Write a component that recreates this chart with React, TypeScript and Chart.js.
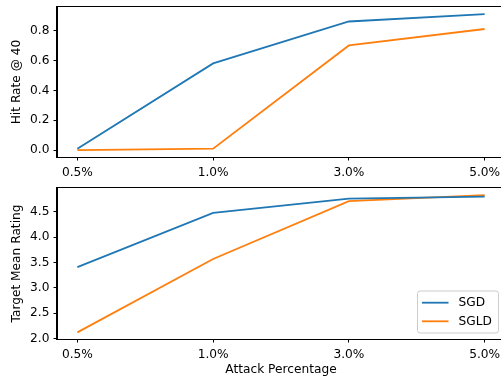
import React, { useEffect, useRef } from "react";
import { Chart, registerables } from "chart.js";

Chart.register(...registerables);

const categories = ["0.5%", "1.0%", "3.0%", "5.0%"];
const seriesNames = ["SGD", "SGLD"];
const seriesColors = ["#1f77b4", "#ff7f0e"];
const hitRateSGD = [0.01, 0.58, 0.86, 0.91];
const hitRateSGLD = [0.0, 0.01, 0.7, 0.81];
const ratingSGD = [3.41, 4.48, 4.76, 4.8];
const ratingSGLD = [2.12, 3.57, 4.71, 4.83];
const hitTicks = [0.0, 0.2, 0.4, 0.6, 0.8];
const ratingTicks = [2.0, 2.5, 3.0, 3.5, 4.0, 4.5];

const FONT = "'DejaVu Sans', sans-serif";
const FS = 12.2;

const framePlugin = {
  id: "frame",
  afterDatasetsDraw(chart: any) {
    const { ctx, chartArea: a } = chart;
    ctx.save();
    ctx.strokeStyle = "#000";
    ctx.lineWidth = 1;
    ctx.strokeRect(Math.round(a.left) - 0.5, Math.round(a.top) - 0.5, Math.round(a.right - a.left) + 1, Math.round(a.bottom - a.top) + 1);
    ctx.restore();
  },
};

const legendPlugin = {
  id: "boxLegend",
  afterDraw(chart: any) {
    const opts = chart.options.plugins.boxLegend;
    if (!opts || !opts.show) return;
    const { ctx, chartArea: a } = chart;
    const ds = chart.data.datasets;
    const w = 81;
    const h = 42;
    const right = a.right - 6.5;
    const bottom = a.bottom - 6;
    const left = right - w;
    const top = bottom - h;
    ctx.save();
    ctx.beginPath();
    const r = 2.5;
    ctx.moveTo(left + r, top);
    ctx.lineTo(right - r, top);
    ctx.quadraticCurveTo(right, top, right, top + r);
    ctx.lineTo(right, bottom - r);
    ctx.quadraticCurveTo(right, bottom, right - r, bottom);
    ctx.lineTo(left + r, bottom);
    ctx.quadraticCurveTo(left, bottom, left, bottom - r);
    ctx.lineTo(left, top + r);
    ctx.quadraticCurveTo(left, top, left + r, top);
    ctx.closePath();
    ctx.fillStyle = "rgba(255,255,255,0.8)";
    ctx.fill();
    ctx.strokeStyle = "#cccccc";
    ctx.lineWidth = 1;
    ctx.stroke();
    ds.forEach((d: any, i: number) => {
      const y = top + 11.7 + i * 18.6;
      ctx.beginPath();
      ctx.moveTo(left + 4.5, y);
      ctx.lineTo(left + 31, y);
      ctx.strokeStyle = d.borderColor;
      ctx.lineWidth = 1.8;
      ctx.stroke();
      ctx.fillStyle = "#000";
      ctx.font = `${FS}px ${FONT}`;
      ctx.textAlign = "left";
      ctx.textBaseline = "middle";
      ctx.fillText(d.label, left + 41, y + 0.5);
    });
    ctx.restore();
  },
};

function buildConfig(p: {
  sgd: number[];
  sgld: number[];
  yMin: number;
  yMax: number;
  yTicks: number[];
  yTitle: string;
  xTitle?: string;
  legend: boolean;
  padTop: number;
  xHeight: number;
}): any {
  const series = [p.sgd, p.sgld];
  return {
    type: "line",
    data: {
      datasets: series.map((vals, si) => ({
        label: seriesNames[si],
        data: vals.map((v, i) => ({ x: i, y: v })),
        borderColor: seriesColors[si],
        backgroundColor: seriesColors[si],
        borderWidth: 1.8,
        pointRadius: 0,
        tension: 0,
        fill: false,
      })),
    },
    options: {
      responsive: false,
      animation: false,
      events: [],
      layout: { padding: { top: p.padTop, right: 7, left: 0, bottom: 0 } },
      plugins: {
        legend: { display: false },
        tooltip: { enabled: false },
        boxLegend: { show: p.legend },
      },
      scales: {
        x: {
          type: "linear",
          min: -0.15,
          max: 3.15,
          afterBuildTicks: (s: any) => {
            s.ticks = categories.map((_, i) => ({ value: i }));
          },
          afterFit: (s: any) => {
            s.height = p.xHeight;
            s.paddingLeft = 0;
            s.paddingRight = 0;
          },
          ticks: {
            callback: (v: any) => categories[Math.round(v)],
            font: { family: FONT, size: FS },
            color: "#000",
            padding: 5.5,
            maxRotation: 0,
            autoSkip: false,
          },
          grid: {
            display: true,
            drawOnChartArea: false,
            drawTicks: true,
            tickLength: 3.5,
            tickColor: "#000",
            tickWidth: 1,
          },
          border: { display: true, color: "#000", width: 1 },
          title: {
            display: !!p.xTitle,
            text: p.xTitle || "",
            font: { family: FONT, size: FS, lineHeight: 1.2 },
            color: "#000",
            padding: { top: 0, bottom: 1 },
          },
        },
        y: {
          type: "linear",
          min: p.yMin,
          max: p.yMax,
          afterBuildTicks: (s: any) => {
            s.ticks = p.yTicks.map((v) => ({ value: v }));
          },
          afterFit: (s: any) => {
            s.width = 57;
            s.paddingTop = 0;
            s.paddingBottom = 0;
          },
          ticks: {
            callback: (v: any) => Number(v).toFixed(1),
            font: { family: FONT, size: FS },
            color: "#000",
            padding: 4,
          },
          grid: {
            display: true,
            drawOnChartArea: false,
            drawTicks: true,
            tickLength: 3.5,
            tickColor: "#000",
            tickWidth: 1,
          },
          border: { display: true, color: "#000", width: 1 },
          title: {
            display: true,
            text: p.yTitle,
            font: { family: FONT, size: FS, lineHeight: 1.2 },
            color: "#000",
            padding: { top: 9.6, bottom: 0 },
          },
        },
      },
    },
    plugins: [framePlugin, legendPlugin],
  };
}

export default function App() {
  const topRef = useRef<HTMLCanvasElement>(null);
  const botRef = useRef<HTMLCanvasElement>(null);

  useEffect(() => {
    if (!topRef.current || !botRef.current) return;
    const c1 = new Chart(
      topRef.current,
      buildConfig({
        sgd: hitRateSGD,
        sgld: hitRateSGLD,
        yMin: -0.0455,
        yMax: 0.957,
        yTicks: hitTicks,
        yTitle: "Hit Rate @ 40",
        legend: false,
        padTop: 7,
        xHeight: 23,
      })
    );
    const c2 = new Chart(
      botRef.current,
      buildConfig({
        sgd: ratingSGD,
        sgld: ratingSGLD,
        yMin: 1.99,
        yMax: 4.97,
        yTicks: ratingTicks,
        yTitle: "Target Mean Rating",
        xTitle: "Attack Percentage",
        legend: true,
        padTop: 8,
        xHeight: 39,
      })
    );
    return () => {
      c1.destroy();
      c2.destroy();
    };
  }, []);

  return (
    <div
      style={{
        position: "fixed",
        left: 0,
        top: 0,
        width: 501,
        height: 378,
        overflow: "hidden",
        background: "#fff",
      }}
    >
      <canvas ref={topRef} width={512} height={180} style={{ position: "absolute", left: 0, top: 0 }} />
      <canvas ref={botRef} width={512} height={198} style={{ position: "absolute", left: 0, top: 180 }} />
    </div>
  );
}
